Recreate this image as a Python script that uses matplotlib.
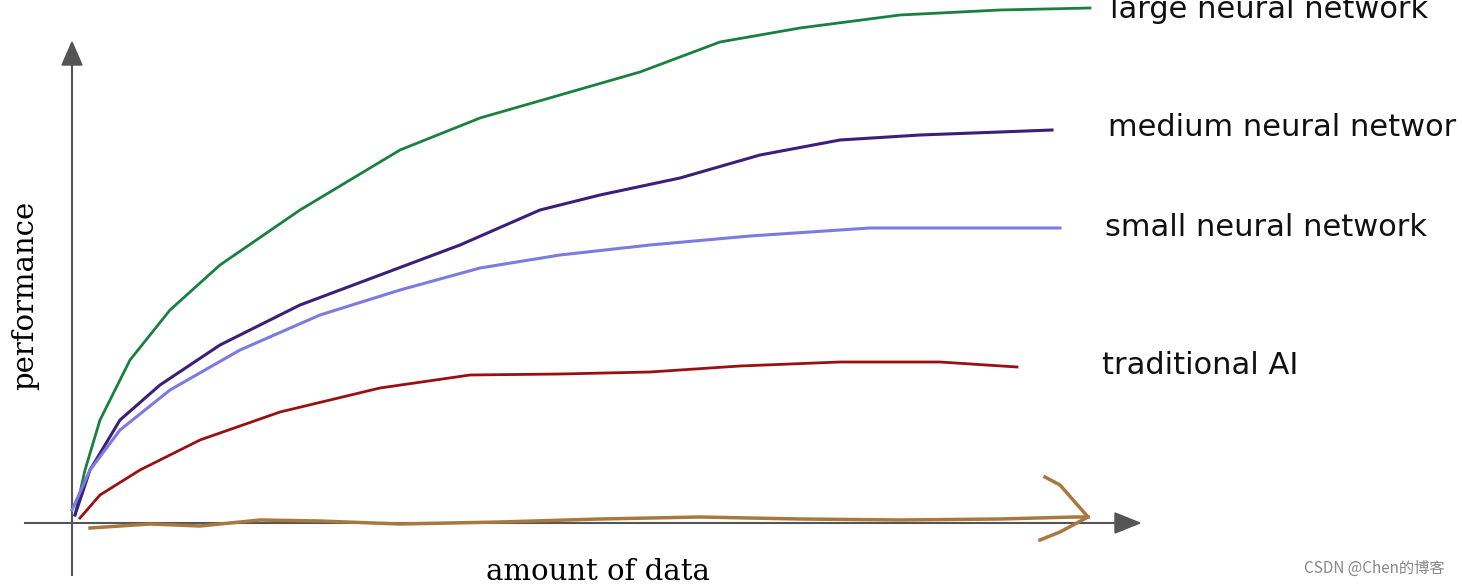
import matplotlib.pyplot as plt
import numpy as np

# curves, in pixel coordinates (x, y from top)
large_x = [75, 85, 100, 130, 170, 220, 300, 400, 480, 560, 640, 720, 800, 900, 1000, 1090]
large_y = [515, 470, 420, 360, 310, 265, 210, 150, 118, 95, 72, 42, 28, 15, 10, 8]
medium_x = [75, 90, 120, 160, 220, 300, 380, 460, 540, 600, 680, 760, 840, 920, 1000, 1052]
medium_y = [515, 470, 420, 385, 345, 305, 275, 245, 210, 195, 178, 155, 140, 135, 132, 130]
small_x = [72, 90, 120, 170, 240, 320, 400, 480, 560, 650, 750, 870, 960, 1060]
small_y = [510, 470, 430, 390, 350, 315, 290, 268, 255, 245, 236, 228, 228, 228]
trad_x = [80, 100, 140, 200, 280, 380, 470, 560, 650, 740, 840, 940, 1017]
trad_y = [518, 495, 470, 440, 412, 388, 375, 374, 372, 366, 362, 362, 367]
wiggle_x = [90, 150, 200, 260, 320, 400, 500, 600, 700, 800, 900, 1000, 1075, 1088]
wiggle_y = [528, 524, 526, 520, 521, 524, 522, 519, 517, 519, 520, 519, 517, 517]
hook_x = [1045, 1060, 1088, 1060, 1040]
hook_y = [477, 485, 517, 532, 540]

labels = ["large neural network", "medium neural networ", "small neural network", "traditional AI"]
label_x = [1110, 1108, 1105, 1102]
label_y = [10, 128, 228, 365]

fig = plt.figure(figsize=(14.62, 5.87), dpi=100)
ax = fig.add_axes([0, 0, 1, 1])
ax.set_xlim(0, 1462)
ax.set_ylim(587, 0)
ax.axis('off')

# axes with arrows
ax.plot([72, 72], [575, 60], color='#555555', lw=1.5)
ax.plot([25, 1120], [523, 523], color='#555555', lw=1.5)
ax.fill([62, 82, 72], [65, 65, 42], color='#555555')
ax.fill([1115, 1115, 1140], [513, 533, 523], color='#555555')

ax.plot(wiggle_x, wiggle_y, color='#a87840', lw=2.5)
ax.plot(hook_x, hook_y, color='#a87840', lw=2.5)

ax.plot(large_x, large_y, color='#1a8040', lw=2)
ax.plot(medium_x, medium_y, color='#3c1f7a', lw=2.2)
ax.plot(small_x, small_y, color='#7b7be0', lw=2.2)
ax.plot(trad_x, trad_y, color='#9a1010', lw=2)

for t, x, y in zip(labels, label_x, label_y):
    ax.text(x, y, t, fontsize=22, va='center', ha='left', color='#111111')

ax.text(25, 295, "performance", fontsize=21, family='DejaVu Serif', rotation=90,
        va='center', ha='center')
ax.text(598, 572, "amount of data", fontsize=21, family='DejaVu Serif', va='center', ha='center')
ax.text(1445, 568, "CSDN @Chen的博客", fontsize=11, color='#888888', ha='right', va='center',
        family=['Noto Sans CJK SC', 'DejaVu Sans'])

fig.savefig('out.png', dpi=100)
